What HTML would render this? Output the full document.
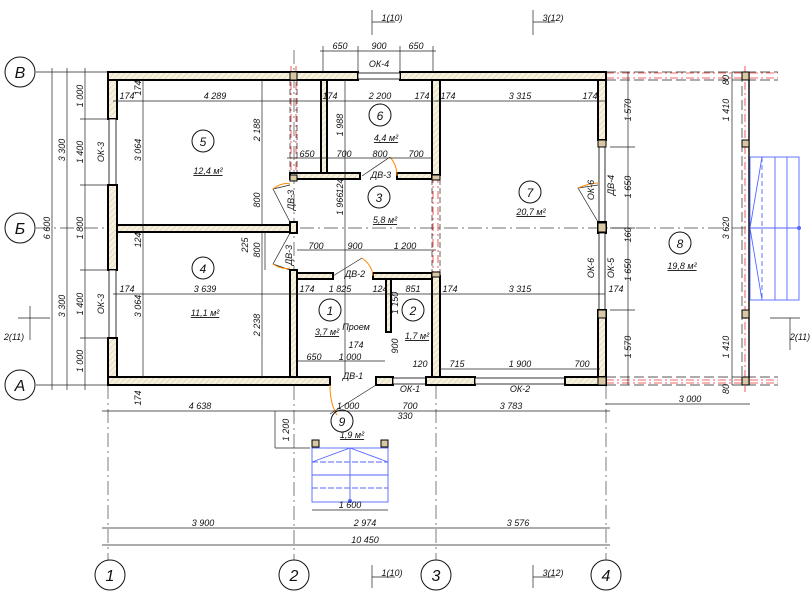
<!DOCTYPE html>
<html><head><meta charset="utf-8"><style>
html,body{margin:0;padding:0;background:#fff}
svg{display:block}
text{font-family:"Liberation Sans",sans-serif;font-style:italic;font-size:9px;fill:#111}
.big{font-size:16px}
.d{stroke:#222;stroke-width:0.7;fill:none}
.w{fill:url(#h);stroke:#000;stroke-width:2}
.red{stroke:#e33;stroke-width:0.8;stroke-dasharray:8 3 2 3;fill:none}
.ax{stroke:#444;stroke-width:0.7;stroke-dasharray:14 4 2 4;fill:none}
.bl{stroke:#56f;stroke-width:0.9;fill:none}
.post{fill:#d9c7a3;stroke:#000;stroke-width:1}
.win{fill:#fff;stroke:#000;stroke-width:0.8}
</style></head><body>
<svg width="811" height="600" viewBox="0 0 811 600" xmlns="http://www.w3.org/2000/svg">
<defs><pattern id="h" width="4" height="4" patternUnits="userSpaceOnUse" patternTransform="rotate(45)"><rect width="4" height="4" fill="#f6f0df"/><line x1="0" y1="0" x2="0" y2="4" stroke="#d8c9a0" stroke-width="1"/></pattern></defs>

<line class="ax" x1="36" y1="228" x2="800" y2="228"/>
<line class="ax" x1="108" y1="385" x2="108" y2="560"/>
<line class="ax" x1="294" y1="50" x2="294" y2="560"/>
<line class="ax" x1="436" y1="385" x2="436" y2="560"/>
<line class="ax" x1="606" y1="385" x2="606" y2="560"/>
<line class="d" x1="36" y1="72" x2="108" y2="72"/>
<line class="d" x1="36" y1="385" x2="108" y2="385"/>

<line class="red" x1="606" y1="73" x2="778" y2="73"/><line class="d" x1="606" y1="72" x2="778" y2="72" style="stroke-dasharray:10 4"/>
<line class="d" x1="606" y1="80" x2="778" y2="80" style="stroke-dasharray:10 4"/>
<line class="red" x1="606" y1="78" x2="778" y2="78"/>
<line class="d" x1="606" y1="377" x2="778" y2="377" style="stroke-dasharray:10 4"/>
<line class="d" x1="606" y1="385" x2="778" y2="385" style="stroke-dasharray:10 4"/>
<line class="red" x1="606" y1="380" x2="778" y2="380"/><line class="red" x1="606" y1="383" x2="778" y2="383"/>
<line x1="749" y1="72" x2="749" y2="385" stroke="#000" stroke-width="1.4"/>
<line class="d" x1="742" y1="72" x2="742" y2="385" style="stroke-dasharray:10 4"/>
<line class="red" x1="745" y1="66" x2="745" y2="392"/>
<rect class="post" x="742" y="72" width="7" height="8"/><rect class="post" x="742" y="140" width="7" height="7"/>
<rect class="post" x="742" y="310" width="7" height="8"/><rect class="post" x="742" y="377" width="7" height="8"/>
<rect class="bl" x="750" y="157" width="49" height="143"/>
<line class="bl" x1="762" y1="157" x2="762" y2="300" style="stroke-dasharray:5 3"/>
<line class="bl" x1="775" y1="157" x2="775" y2="300"/><line class="bl" x1="787" y1="157" x2="787" y2="300"/>
<line class="bl" x1="750" y1="228" x2="799" y2="228"/>
<polyline class="bl" points="762,157 750,228 762,300"/>
<circle cx="799" cy="228" r="2" fill="#56f"/>

<line class="red" x1="291" y1="66" x2="291" y2="180"/><line class="red" x1="296" y1="66" x2="296" y2="180"/>
<line class="red" x1="433" y1="175" x2="433" y2="278"/><line class="red" x1="438" y1="175" x2="438" y2="278"/>
<line class="d" x1="290" y1="80" x2="290" y2="175" style="stroke-dasharray:6 3"/><line class="d" x1="297" y1="80" x2="297" y2="175" style="stroke-dasharray:6 3"/>
<line class="d" x1="432" y1="179" x2="432" y2="273" style="stroke-dasharray:6 3"/><line class="d" x1="440" y1="179" x2="440" y2="273" style="stroke-dasharray:6 3"/>

<rect class="w" x="108" y="72" width="250" height="8"/>
<rect class="w" x="400" y="72" width="206" height="8"/>
<rect class="win" x="358" y="73" width="42" height="6"/>
<rect class="w" x="108" y="80" width="9" height="39"/>
<rect class="win" x="109" y="119" width="7" height="66"/>
<rect class="w" x="108" y="185" width="9" height="85"/>
<rect class="win" x="109" y="270" width="7" height="68"/>
<rect class="w" x="108" y="338" width="9" height="47"/>
<rect class="w" x="108" y="377" width="222" height="8"/>
<rect class="w" x="376" y="377" width="17" height="8"/>
<rect class="win" x="393" y="378" width="33" height="6"/>
<rect class="w" x="426" y="377" width="49" height="8"/>
<rect class="win" x="475" y="378" width="90" height="6"/>
<rect class="w" x="565" y="377" width="41" height="8"/>
<rect class="w" x="598" y="80" width="8" height="60"/>
<rect class="win" x="599" y="147" width="6" height="75"/>
<rect class="w" x="598" y="222" width="8" height="11"/>
<rect class="win" x="599" y="233" width="6" height="77"/>
<rect class="w" x="598" y="310" width="8" height="67"/>
<rect class="post" x="598" y="140" width="8" height="7"/><rect class="post" x="598" y="310" width="8" height="8"/>
<rect class="post" x="598" y="223" width="8" height="9"/>
<rect class="w" x="117" y="225" width="173" height="7"/>
<rect class="w" x="290" y="222" width="7" height="11"/>
<rect class="w" x="290" y="173" width="70" height="6"/>
<rect class="w" x="397" y="173" width="35" height="6"/>
<rect class="w" x="321" y="80" width="6" height="93"/>
<rect class="w" x="432" y="80" width="8" height="95"/>
<rect class="w" x="432" y="276" width="8" height="101"/>
<rect class="w" x="290" y="270" width="7" height="107"/>
<rect class="w" x="297" y="273" width="36" height="6"/>
<rect class="w" x="373" y="273" width="59" height="6"/>
<rect class="w" x="386" y="279" width="5" height="53"/>
<rect class="post" x="290" y="72" width="7" height="8"/><rect class="post" x="290" y="175" width="7" height="6"/>
<rect class="post" x="432" y="175" width="8" height="5"/><rect class="post" x="432" y="272" width="8" height="5"/>
<rect class="post" x="598" y="377" width="8" height="8"/>

<path d="M290 185 L273 189 L290 222" class="d"/><path d="M273 189 Q282 182 290 184" stroke="#f80" fill="none"/>
<path d="M290 270 L273 264 L290 233" class="d"/><path d="M273 264 Q282 270 290 268" stroke="#f80" fill="none"/>
<path d="M362 176 L390 157" class="d"/><path d="M390 157 Q397 165 397 176" stroke="#f80" fill="none"/>
<path d="M333 276 L362 258" class="d"/><path d="M362 258 Q372 265 373 276" stroke="#f80" fill="none"/>
<path d="M376 385 L330 414" class="d"/><path d="M330 385 Q330 404 337 415" stroke="#f80" fill="none"/>
<path d="M598 185 L578 188 L598 222" class="d"/><path d="M578 188 Q590 183 598 183" stroke="#f80" fill="none"/>

<rect class="post" x="312" y="440" width="7" height="7"/><rect class="post" x="381" y="440" width="7" height="7"/>
<rect class="bl" x="312" y="448" width="76" height="54"/>
<line class="bl" x1="312" y1="462" x2="388" y2="462" style="stroke-dasharray:6 2"/>
<line class="bl" x1="312" y1="475" x2="388" y2="475"/><line class="bl" x1="312" y1="488" x2="388" y2="488" style="stroke-dasharray:6 2"/>
<line class="bl" x1="350" y1="448" x2="350" y2="502"/><polyline class="bl" points="312,462 350,448 388,462"/>
<circle cx="350" cy="501" r="2" fill="#56f"/>

<g class="d">
<line x1="52" y1="68" x2="52" y2="390"/><line x1="67" y1="68" x2="67" y2="390"/><line x1="85" y1="68" x2="85" y2="390"/>
<line x1="80" y1="119" x2="108" y2="119"/><line x1="80" y1="185" x2="108" y2="185"/><line x1="80" y1="270" x2="108" y2="270"/><line x1="80" y1="338" x2="108" y2="338"/>
<line x1="102" y1="411" x2="610" y2="411"/><line x1="606" y1="404" x2="750" y2="404"/>
<line x1="102" y1="528" x2="610" y2="528"/><line x1="102" y1="545" x2="610" y2="545"/>
<line x1="312" y1="510" x2="388" y2="510"/>
<line x1="320" y1="51" x2="436" y2="51"/><line x1="323" y1="46" x2="323" y2="72"/><line x1="358" y1="46" x2="358" y2="72"/><line x1="400" y1="46" x2="400" y2="72"/><line x1="433" y1="46" x2="433" y2="72"/>
<line x1="113" y1="101" x2="325" y2="101"/><line x1="325" y1="101" x2="438" y2="101"/><line x1="436" y1="101" x2="605" y2="101"/>
<line x1="143" y1="80" x2="143" y2="377"/><line x1="262" y1="80" x2="262" y2="225"/><line x1="262" y1="232" x2="262" y2="377"/>
<line x1="113" y1="294" x2="292" y2="294"/><line x1="292" y1="294" x2="436" y2="294"/><line x1="436" y1="294" x2="605" y2="294"/>
<line x1="287" y1="158" x2="432" y2="158"/><line x1="297" y1="250" x2="436" y2="250"/>
<line x1="345" y1="80" x2="345" y2="377"/>
<line x1="297" y1="361" x2="385" y2="361"/><line x1="440" y1="369" x2="600" y2="369"/>
<line x1="628" y1="72" x2="628" y2="385"/><line x1="610" y1="147" x2="635" y2="147"/><line x1="610" y1="228" x2="635" y2="228"/><line x1="610" y1="310" x2="635" y2="310"/>
<line x1="732" y1="72" x2="732" y2="385"/><line x1="265" y1="232" x2="265" y2="270"/>
<line x1="275" y1="411" x2="275" y2="448"/><line x1="275" y1="448" x2="310" y2="448"/>
<line x1="30" y1="306" x2="30" y2="340"/><line x1="18" y1="318" x2="50" y2="318"/>
<line x1="790" y1="318" x2="790" y2="350"/><line x1="770" y1="318" x2="800" y2="318"/>
<line x1="372" y1="10" x2="372" y2="35"/><line x1="372" y1="22" x2="395" y2="22"/>
<line x1="533" y1="10" x2="533" y2="35"/><line x1="533" y1="22" x2="555" y2="22"/>
<line x1="372" y1="565" x2="372" y2="588"/><line x1="372" y1="577" x2="395" y2="577"/>
<line x1="533" y1="565" x2="533" y2="588"/><line x1="533" y1="577" x2="555" y2="577"/>
</g>

<g fill="none" stroke="#111" stroke-width="1">
<circle cx="20" cy="72" r="15"/><circle cx="20" cy="228" r="15"/><circle cx="20" cy="385" r="15"/>
<circle cx="110" cy="575" r="15"/><circle cx="294" cy="575" r="15"/><circle cx="436" cy="575" r="15"/><circle cx="606" cy="575" r="15"/>
<circle cx="203" cy="141" r="11"/><circle cx="380" cy="115" r="11"/><circle cx="379" cy="197" r="11"/><circle cx="530" cy="192" r="11"/>
<circle cx="203" cy="268" r="11"/><circle cx="330" cy="310" r="11"/><circle cx="413" cy="310" r="11"/><circle cx="680" cy="243" r="11"/><circle cx="342" cy="421" r="11"/>
</g>
<g text-anchor="middle">
<text class="big" x="20" y="78">В</text><text class="big" x="20" y="234">Б</text><text class="big" x="20" y="391">А</text>
<text class="big" x="110" y="581">1</text><text class="big" x="294" y="581">2</text><text class="big" x="436" y="581">3</text><text class="big" x="606" y="581">4</text>
<text x="203" y="146" style="font-size:12px">5</text><text x="380" y="120" style="font-size:12px">6</text><text x="379" y="202" style="font-size:12px">3</text><text x="530" y="197" style="font-size:12px">7</text>
<text x="203" y="273" style="font-size:12px">4</text><text x="330" y="315" style="font-size:12px">1</text><text x="413" y="315" style="font-size:12px">2</text><text x="680" y="248" style="font-size:12px">8</text><text x="342" y="426" style="font-size:12px">9</text>
<text x="208" y="174" text-decoration="underline">12,4 м²</text><text x="386" y="141" text-decoration="underline">4,4 м²</text><text x="385" y="223" text-decoration="underline">5,8 м²</text>
<text x="531" y="215" text-decoration="underline">20,7 м²</text><text x="205" y="316" text-decoration="underline">11,1 м²</text><text x="327" y="335" text-decoration="underline">3,7 м²</text>
<text x="417" y="339" text-decoration="underline">1,7 м²</text><text x="682" y="269" text-decoration="underline">19,8 м²</text><text x="352" y="438" text-decoration="underline">1,9 м²</text>
<text x="215" y="99">4 289</text><text x="380" y="99">2 200</text><text x="520" y="99">3 315</text>
<text x="127" y="99">174</text><text x="330" y="99">174</text><text x="422" y="99">174</text><text x="448" y="99">174</text><text x="590" y="99">174</text>
<text x="205" y="292">3 639</text><text x="340" y="292">1 825</text><text x="380" y="292">124</text><text x="413" y="292">851</text><text x="520" y="292">3 315</text>
<text x="127" y="292">174</text><text x="307" y="292">174</text><text x="450" y="292">174</text><text x="616" y="292">174</text>
<text x="307" y="157">650</text><text x="344" y="157">700</text><text x="380" y="157">800</text><text x="416" y="157">700</text>
<text x="316" y="249">700</text><text x="355" y="249">900</text><text x="405" y="249">1 200</text>
<text x="314" y="360">650</text><text x="350" y="360">1 000</text><text x="356" y="348">174</text><text x="420" y="367">120</text>
<text x="457" y="367">715</text><text x="520" y="367">1 900</text><text x="582" y="367">700</text>
<text x="340" y="49">650</text><text x="379" y="49">900</text><text x="416" y="49">650</text>
<text x="379" y="67">ОК-4</text><text x="381" y="178">ДВ-3</text><text x="355" y="277">ДВ-2</text><text x="353" y="379">ДВ-1</text>
<text x="410" y="392">ОК-1</text><text x="520" y="392">ОК-2</text><text x="356" y="330">Проем</text>
<text x="200" y="409">4 638</text><text x="348" y="409">1 000</text><text x="410" y="409">700</text><text x="511" y="409">3 783</text><text x="690" y="402">3 000</text>
<text x="405" y="419">330</text><text x="350" y="508">1 600</text>
<text x="203" y="526">3 900</text><text x="365" y="526">2 974</text><text x="518" y="526">3 576</text><text x="365" y="543">10 450</text>
<text x="392" y="21">1(10)</text><text x="553" y="21">3(12)</text><text x="392" y="576">1(10)</text><text x="553" y="576">3(12)</text>
<text x="14" y="340">2(11)</text><text x="800" y="340">2(11)</text>
</g>
<g text-anchor="middle">
<text transform="translate(50,228) rotate(-90)">6 600</text>
<text transform="translate(65,150) rotate(-90)">3 300</text><text transform="translate(65,306) rotate(-90)">3 300</text>
<text transform="translate(83,96) rotate(-90)">1 000</text><text transform="translate(83,152) rotate(-90)">1 400</text><text transform="translate(83,228) rotate(-90)">1 800</text>
<text transform="translate(83,304) rotate(-90)">1 400</text><text transform="translate(83,361) rotate(-90)">1 000</text>
<text transform="translate(104,152) rotate(-90)">ОК-3</text><text transform="translate(104,304) rotate(-90)">ОК-3</text>
<text transform="translate(141,150) rotate(-90)">3 064</text><text transform="translate(141,306) rotate(-90)">3 064</text>
<text transform="translate(260,130) rotate(-90)">2 188</text><text transform="translate(260,325) rotate(-90)">2 238</text>
<text transform="translate(260,200) rotate(-90)">800</text><text transform="translate(260,250) rotate(-90)">800</text><text transform="translate(248,245) rotate(-90)">225</text>
<text transform="translate(141,240) rotate(-90)">124</text><text transform="translate(141,88) rotate(-90)">174</text><text transform="translate(141,398) rotate(-90)">174</text>
<text transform="translate(294,200) rotate(-90)">ДВ-3</text><text transform="translate(292,255) rotate(-90)">ДВ-3</text>
<text transform="translate(343,125) rotate(-90)">1 988</text><text transform="translate(343,204) rotate(-90)">1 966</text><text transform="translate(343,186) rotate(-90)">124</text>
<text transform="translate(398,303) rotate(-90)">1 150</text><text transform="translate(398,346) rotate(-90)">900</text>
<text transform="translate(594,190) rotate(-90)">ОК-6</text><text transform="translate(594,268) rotate(-90)">ОК-6</text>
<text transform="translate(614,185) rotate(-90)">ДВ-4</text><text transform="translate(614,268) rotate(-90)">ОК-5</text>
<text transform="translate(631,110) rotate(-90)">1 570</text><text transform="translate(631,187) rotate(-90)">1 650</text><text transform="translate(631,235) rotate(-90)">160</text>
<text transform="translate(631,270) rotate(-90)">1 650</text><text transform="translate(631,347) rotate(-90)">1 570</text>
<text transform="translate(729,110) rotate(-90)">1 410</text><text transform="translate(729,228) rotate(-90)">3 620</text><text transform="translate(729,347) rotate(-90)">1 410</text>
<text transform="translate(729,80) rotate(-90)">80</text><text transform="translate(729,389) rotate(-90)">80</text>
<text transform="translate(289,430) rotate(-90)">1 200</text>
</g>
</svg>
</body></html>
